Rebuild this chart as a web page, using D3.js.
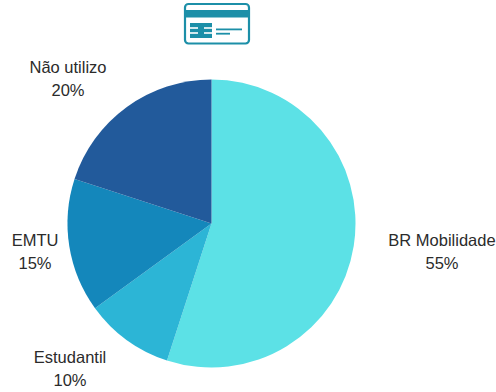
<!DOCTYPE html>
<html lang="pt">
<head>
<meta charset="utf-8">
<script src="https://cdn.jsdelivr.net/npm/d3@7"></script>
<style>
html,body{margin:0;padding:0;background:#fff}
svg{display:block}
text{font-family:"Liberation Sans",Arial,sans-serif;font-size:16.5px;fill:#2b2b2b;text-anchor:middle}
</style>
</head>
<body>
<svg id="chart" width="496" height="392"></svg>
<script>
const categories = ["BR Mobilidade", "Estudantil", "EMTU", "Não utilizo"];
const shares = [55, 10, 15, 20];
const sliceColors = ["#5ce1e6", "#2cb5d6", "#1487bb", "#225a9b"];
// label anchors in page pixels: horizontal centre, first-line baseline
const labelX = [442, 70, 35, 68];
const labelY = [246, 363, 246, 73];

const svg = d3.select("#chart");
const cx = 211.5, cy = 223.5, radius = 144;

const pie = d3.pie().sort(null).value(d => d);
const arc = d3.arc().innerRadius(0).outerRadius(radius);

svg.append("g")
  .attr("transform", `translate(${cx},${cy})`)
  .selectAll("path")
  .data(pie(shares))
  .join("path")
  .attr("d", arc)
  .attr("fill", (d, i) => sliceColors[i]);

const labels = svg.append("g").selectAll("text")
  .data(categories)
  .join("text")
  .attr("x", (d, i) => labelX[i])
  .attr("y", (d, i) => labelY[i]);
labels.append("tspan").text(d => d);
labels.append("tspan")
  .attr("x", (d, i) => labelX[i])
  .attr("dy", 23)
  .text((d, i) => shares[i] + "%");

// transit-card pictogram above the pie
const card = svg.append("g").attr("transform", "translate(184,3)");
const teal = "#1c8fa8";
card.append("rect").attr("x", 1).attr("y", 1).attr("width", 64).attr("height", 39.5)
  .attr("rx", 3.5).attr("fill", "#fff").attr("stroke", teal).attr("stroke-width", 2.2);
card.append("rect").attr("x", 1).attr("y", 7).attr("width", 64).attr("height", 7.5).attr("fill", teal);
// chip: solid block cut by side notches
card.append("rect").attr("x", 6).attr("y", 20).attr("width", 22).attr("height", 15).attr("fill", teal);
[24.2, 29.2].forEach(y => {
  card.append("rect").attr("x", 6).attr("y", y).attr("width", 8).attr("height", 1.6).attr("fill", "#fff");
  card.append("rect").attr("x", 20).attr("y", y).attr("width", 8).attr("height", 1.6).attr("fill", "#fff");
});
card.append("rect").attr("x", 32).attr("y", 25.5).attr("width", 26).attr("height", 1.8).attr("fill", teal);
card.append("rect").attr("x", 32).attr("y", 29.8).attr("width", 14).attr("height", 1.8).attr("fill", teal);
</script>
</body>
</html>
